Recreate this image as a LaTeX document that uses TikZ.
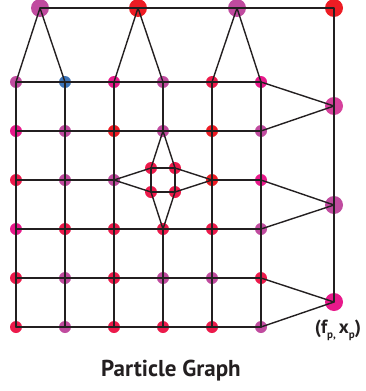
\documentclass[tikz,border=0pt]{standalone}
\usepackage{fontspec}
\setmainfont{PT Sans}
\usetikzlibrary{positioning}
\definecolor{ink}{HTML}{231F20}
\definecolor{pred}{HTML}{ED1C24}
\definecolor{pcrim}{HTML}{EC1A4B}
\definecolor{pmag}{HTML}{E8198B}
\definecolor{pmauve}{HTML}{C04B9F}
\definecolor{ppink}{HTML}{D6419C}
\definecolor{pblue}{HTML}{3D74B8}
\newcommand{\lowsub}[1]{\raisebox{-5pt}{\fontsize{11}{12}\selectfont #1}}
\tikzset{
  every picture/.style={line join=round, line cap=round},
  dot/.style={circle, inner sep=0pt, minimum size=12pt, draw=none},
  bigdot/.style={circle, inner sep=0pt, minimum size=18pt, draw=none},
  link/.style={line width=1.4pt, draw=ink},
}

\begin{document}
\begin{tikzpicture}[x=1pt,y=-1pt]
\useasboundingbox (0,0) rectangle (365,391);
% grid particles, row by row
\foreach \col [count=\c] in {pmauve,pblue,pmag,pmauve,pcrim,pmag}
  \node[dot,fill=\col] (n1-\c) at ({16+49*(\c-1)},82) {};
\foreach \col [count=\c] in {pmag,pmauve,pred,pmauve,pred,pmauve}
  \node[dot,fill=\col] (n2-\c) at ({16+49*(\c-1)},131) {};
\foreach \c/\col in {1/pcrim,2/pmauve,3/pmauve,5/pred,6/pmag}
  \node[dot,fill=\col] (n3-\c) at ({16+49*(\c-1)},180) {};
\foreach \col [count=\c] in {pmag,pcrim,pcrim,pcrim,pcrim,pmauve}
  \node[dot,fill=\col] (n4-\c) at ({16+49*(\c-1)},229) {};
\foreach \col [count=\c] in {pcrim,pmauve,pcrim,pmauve,pmauve,pcrim}
  \node[dot,fill=\col] (n5-\c) at ({16+49*(\c-1)},278) {};
\foreach \col [count=\c] in {pcrim,pmauve,pcrim,pcrim,pcrim,pmauve}
  \node[dot,fill=\col] (n6-\c) at ({16+49*(\c-1)},327) {};
% inner square
\node[dot,fill=pcrim] (i1) at (151,168) {};
\node[dot,fill=pcrim] (i2) at (175,168) {};
\node[dot,fill=pcrim] (i3) at (151,192) {};
\node[dot,fill=pcrim] (i4) at (175,192) {};
% coarse particles
\node[bigdot,fill=pmauve] (t1) at (40,8) {};
\node[bigdot,fill=pred] (t2) at (138,8) {};
\node[bigdot,fill=pmauve] (t3) at (237,8) {};
\node[bigdot,fill=pred] (t4) at (334,8) {};
\node[bigdot,fill=ppink] (s1) at (334,106) {};
\node[bigdot,fill=pmauve] (s2) at (334,205) {};
\node[bigdot,fill=pmag] (s3) at (334,302) {};

% grid links
\foreach \r in {1,2,4,5,6}
  \draw[link] (n\r-1.center) -- (n\r-6.center);
\draw[link] (n3-1.center) -- (n3-3.center);
\draw[link] (n3-5.center) -- (n3-6.center);
\foreach \c in {1,2,3,5,6}
  \draw[link] (n1-\c.center) -- (n6-\c.center);
\draw[link] (n1-4.center) -- (n2-4.center);
\draw[link] (n4-4.center) -- (n6-4.center);
\draw[link] (i1.center) -- (i2.center) -- (i4.center) -- (i3.center) -- cycle;
\draw[link] (i1.center) -- (n2-4.center) -- (i2.center);
\draw[link] (i3.center) -- (n4-4.center) -- (i4.center);
\draw[link] (i1.center) -- (n3-3.center) -- (i3.center);
\draw[link] (i2.center) -- (n3-5.center) -- (i4.center);
% coarse links
\draw[link] (t1.center) -- (t4.center) -- (s3.center);
\draw[link] (n1-1.center) -- (t1.center) -- (n1-2.center);
\draw[link] (n1-3.center) -- (t2.center) -- (n1-4.center);
\draw[link] (n1-5.center) -- (t3.center) -- (n1-6.center);
\draw[link] (n1-6.center) -- (s1.center) -- (n2-6.center);
\draw[link] (n3-6.center) -- (s2.center) -- (n4-6.center);
\draw[link] (n5-6.center) -- (s3.center) -- (n6-6.center);

\node[font=\fontsize{19}{22}\selectfont\bfseries, text=ink, inner sep=0pt] (lab) at (338,330)
  {(f\lowsub{p,}\,x\lowsub{p})};
\node[font=\fontsize{23}{26}\selectfont\bfseries, text=ink] (title) at (171,371)
  {Particle Graph};
\end{tikzpicture}
\end{document}
